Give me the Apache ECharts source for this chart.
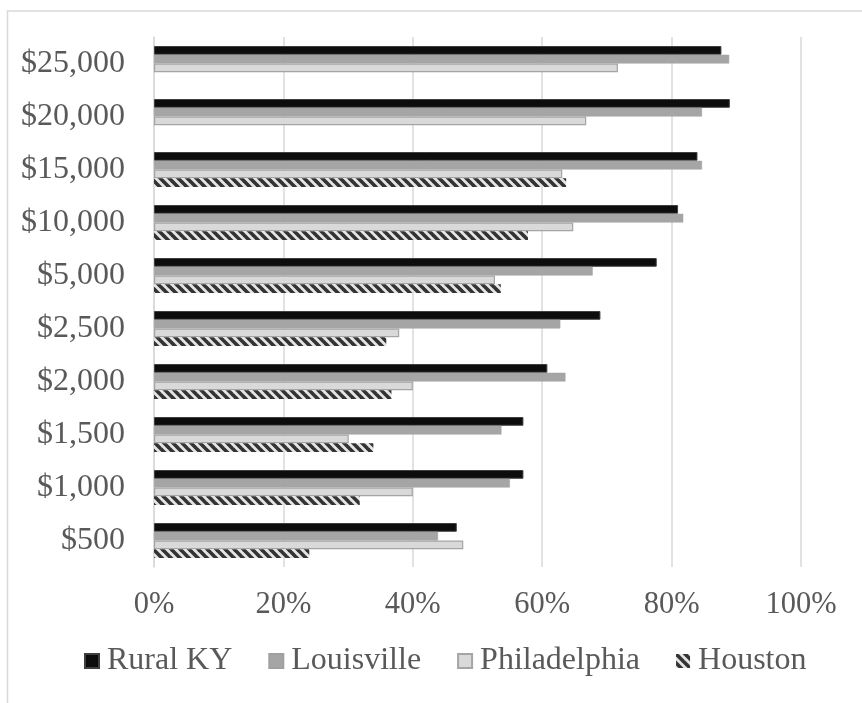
<!DOCTYPE html>
<html>
<head>
<meta charset="utf-8">
<script src="https://cdn.jsdelivr.net/npm/echarts@6/dist/echarts.min.js"></script>
<style>
html,body{margin:0;padding:0;background:#fff;}
#chart{width:862px;height:703px;}
</style>
</head>
<body>
<div id="chart"></div>
<script>
const categories = ['$25,000','$20,000','$15,000','$10,000','$5,000','$2,500','$2,000','$1,500','$1,000','$500'];
const ruralKY = [87.7, 89, 84, 81, 77.7, 69, 60.8, 57.1, 57.1, 46.8];
const louisville = [88.9, 84.7, 84.7, 81.8, 67.8, 62.8, 63.6, 53.7, 55, 43.9];
const philadelphia = [71.7, 66.8, 63.1, 64.8, 52.7, 37.9, 40, 30.1, 40, 47.8];
const houston = [null, null, 63.7, 57.8, 53.6, 35.9, 36.7, 33.9, 31.8, 24];
const seriesNames = ['Rural KY','Louisville','Philadelphia','Houston'];
const xTicks = [0, 20, 40, 60, 80, 100];

function hatch() {
  const c = document.createElement('canvas');
  const s = 9;
  c.width = s; c.height = s;
  const g = c.getContext('2d');
  g.fillStyle = '#e6e6e6';
  g.fillRect(0, 0, s, s);
  g.strokeStyle = '#333333';
  g.lineWidth = 3.6;
  g.lineCap = 'square';
  for (const o of [-s, 0, s]) {
    g.beginPath();
    g.moveTo(o, 0);
    g.lineTo(o + s, s);
    g.stroke();
  }
  return c;
}

const font = 'Liberation Serif';
const textColor = '#595959';
const chart = echarts.init(document.getElementById('chart'), null, {renderer: 'canvas'});
chart.setOption({
  animation: false,
  backgroundColor: '#ffffff',
  graphic: [{
    type: 'rect', left: 5, top: 8.5, silent: true,
    shape: {width: 900, height: 720},
    style: {fill: 'none', stroke: '#d9d9d9', lineWidth: 1.5}
  }],
  grid: {left: 154, right: 61, top: 37, bottom: 136, containLabel: false},
  xAxis: {
    type: 'value', min: xTicks[0], max: xTicks[xTicks.length - 1], interval: 20,
    axisLine: {show: false}, axisTick: {show: false},
    splitLine: {show: true, lineStyle: {color: '#d9d9d9', width: 1.5}},
    axisLabel: {formatter: '{value}%', fontFamily: font, fontSize: 30.5, color: textColor, margin: 22}
  },
  yAxis: {
    type: 'category', data: categories, inverse: true,
    axisLine: {show: true, lineStyle: {color: '#d9d9d9', width: 1.5}},
    axisTick: {show: false},
    axisLabel: {fontFamily: font, fontSize: 32, color: textColor, margin: 29}
  },
  legend: {
    left: 84, top: 645, padding: 0, itemWidth: 14, itemHeight: 14, itemGap: 36, icon: 'rect',
    textStyle: {fontFamily: font, fontSize: 32, color: textColor, padding: [0, 0, 0, 3]},
    data: seriesNames
  },
  series: [
    {name: seriesNames[0], type: 'bar', data: ruralKY, barGap: '0%', barCategoryGap: '34%',
     itemStyle: {color: '#0d0d0d', borderColor: '#404040', borderWidth: 1}},
    {name: seriesNames[1], type: 'bar', data: louisville,
     itemStyle: {color: '#a5a5a5', borderColor: '#a0a0a0', borderWidth: 0.5}},
    {name: seriesNames[2], type: 'bar', data: philadelphia,
     itemStyle: {color: '#d9d9d9', borderColor: '#a5a5a5', borderWidth: 1.2}},
    {name: seriesNames[3], type: 'bar', data: houston,
     itemStyle: {color: {image: hatch(), repeat: 'repeat'}}}
  ]
});
</script>
</body>
</html>
